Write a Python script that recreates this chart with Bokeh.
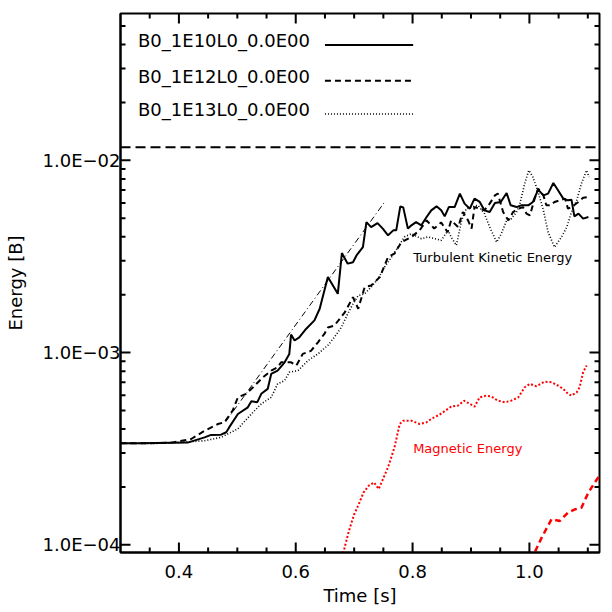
from bokeh.plotting import figure
from bokeh.models import (Range1d, FixedTicker, Span, Label,
                          CustomJSTickFormatter, PrintfTickFormatter, ColumnDataSource)
from bokeh.core.properties import value
from bokeh.embed import file_html
from bokeh.resources import INLINE

# ---------------- data ----------------
run_names = ["B0_1E10L0_0.0E00", "B0_1E12L0_0.0E00", "B0_1E13L0_0.0E00"]

t_solid = [0.300, 0.330, 0.360, 0.387, 0.415, 0.444, 0.455, 0.472, 0.481, 0.486, 0.501, 0.518,
           0.524, 0.534, 0.541, 0.552, 0.558, 0.569, 0.581, 0.589, 0.592, 0.598, 0.606, 0.618,
           0.632, 0.641, 0.655, 0.672, 0.679, 0.689, 0.698, 0.704, 0.715, 0.721, 0.729, 0.740,
           0.749, 0.758, 0.767, 0.772, 0.779, 0.784, 0.792, 0.798, 0.806, 0.815, 0.824, 0.832,
           0.841, 0.849, 0.855, 0.862, 0.872, 0.881, 0.889, 0.898, 0.906, 0.915, 0.923, 0.932,
           0.941, 0.951, 0.961, 0.968, 0.978, 0.986, 0.998, 1.006, 1.015, 1.024, 1.032, 1.041,
           1.049, 1.058, 1.066, 1.072, 1.077, 1.084, 1.092, 1.101]
e_solid = [3.37e-4, 3.37e-4, 3.38e-4, 3.39e-4, 3.40e-4, 3.62e-4, 3.73e-4, 3.74e-4, 3.85e-4, 4.08e-4,
           4.79e-4, 5.19e-4, 5.58e-4, 5.51e-4, 6.10e-4, 6.47e-4, 7.74e-4, 8.06e-4, 8.90e-4, 9.84e-4,
           1.24e-3, 1.155e-3, 1.20e-3, 1.33e-3, 1.47e-3, 1.69e-3, 2.47e-3, 2.02e-3, 3.29e-3, 2.90e-3,
           2.95e-3, 3.20e-3, 3.53e-3, 4.77e-3, 4.49e-3, 4.71e-3, 4.41e-3, 4.07e-3, 4.32e-3, 4.32e-3,
           5.76e-3, 5.69e-3, 4.41e-3, 4.59e-3, 4.77e-3, 4.59e-3, 5.07e-3, 5.49e-3, 5.76e-3, 5.49e-3,
           5.11e-3, 5.71e-3, 5.71e-3, 6.71e-3, 5.95e-3, 5.60e-3, 6.32e-3, 6.07e-3, 5.49e-3, 5.38e-3,
           5.99e-3, 6.07e-3, 6.76e-3, 5.83e-3, 5.71e-3, 5.83e-3, 5.83e-3, 6.07e-3, 7.04e-3, 6.57e-3,
           6.71e-3, 7.62e-3, 6.98e-3, 6.32e-3, 6.19e-3, 6.24e-3, 5.11e-3, 5.28e-3, 4.97e-3, 5.07e-3]

t_dash = [0.300, 0.330, 0.360, 0.387, 0.421, 0.444, 0.467, 0.478, 0.492, 0.501, 0.515, 0.527,
          0.544, 0.558, 0.569, 0.575, 0.592, 0.601, 0.612, 0.626, 0.638, 0.649, 0.655, 0.666,
          0.684, 0.698, 0.707, 0.718, 0.729, 0.744, 0.758, 0.769, 0.781, 0.798, 0.812, 0.824,
          0.837, 0.849, 0.860, 0.866, 0.878, 0.886, 0.895, 0.901, 0.906, 0.915, 0.923, 0.932,
          0.941, 0.946, 0.955, 0.964, 0.972, 0.981, 0.989, 0.995, 1.001, 1.009, 1.015, 1.024,
          1.029, 1.035, 1.043, 1.052, 1.061, 1.066, 1.072, 1.084, 1.092, 1.101]
e_dash = [3.37e-4, 3.37e-4, 3.38e-4, 3.40e-4, 3.55e-4, 3.92e-4, 4.25e-4, 4.34e-4, 4.99e-4, 5.85e-4,
          6.10e-4, 6.60e-4, 7.44e-4, 8.06e-4, 8.38e-4, 8.90e-4, 8.90e-4, 8.56e-4, 9.84e-4, 1.02e-3,
          1.13e-3, 1.25e-3, 1.35e-3, 1.38e-3, 1.62e-3, 1.94e-3, 1.69e-3, 2.19e-3, 2.23e-3, 2.47e-3,
          3.14e-3, 3.27e-3, 3.75e-3, 3.99e-3, 4.32e-3, 4.87e-3, 4.42e-3, 4.75e-3, 4.22e-3, 4.87e-3,
          4.49e-3, 5.38e-3, 4.87e-3, 4.41e-3, 5.71e-3, 5.60e-3, 5.49e-3, 5.95e-3, 6.57e-3, 6.71e-3,
          5.38e-3, 4.87e-3, 5.38e-3, 5.60e-3, 5.71e-3, 5.28e-3, 5.17e-3, 6.32e-3, 7.12e-3, 6.57e-3,
          5.83e-3, 5.83e-3, 6.07e-3, 6.19e-3, 6.32e-3, 5.60e-3, 5.71e-3, 6.07e-3, 6.39e-3, 6.44e-3]

t_dot = [0.300, 0.330, 0.360, 0.387, 0.444, 0.472, 0.501, 0.524, 0.541, 0.558, 0.569, 0.581,
         0.589, 0.604, 0.621, 0.638, 0.655, 0.666, 0.678, 0.689, 0.698, 0.707, 0.718, 0.729,
         0.741, 0.752, 0.764, 0.775, 0.786, 0.798, 0.815, 0.826, 0.838, 0.849, 0.861, 0.866,
         0.875, 0.884, 0.892, 0.901, 0.912, 0.923, 0.932, 0.944, 0.952, 0.961, 0.969, 0.978,
         0.983, 0.992, 0.999, 1.006, 1.015, 1.024, 1.032, 1.043, 1.055, 1.064, 1.072, 1.081,
         1.089, 1.098, 1.102]
e_dot = [3.37e-4, 3.37e-4, 3.37e-4, 3.38e-4, 3.48e-4, 3.62e-4, 4.01e-4, 4.79e-4, 5.41e-4, 5.85e-4,
         6.87e-4, 7.15e-4, 7.90e-4, 8.06e-4, 9.08e-4, 9.84e-4, 1.09e-3, 1.20e-3, 1.35e-3, 1.59e-3,
         1.79e-3, 1.98e-3, 2.02e-3, 2.19e-3, 2.42e-3, 2.78e-3, 3.14e-3, 3.53e-3, 3.99e-3, 4.15e-3,
         3.91e-3, 3.99e-3, 3.91e-3, 3.83e-3, 4.32e-3, 3.99e-3, 3.61e-3, 4.87e-3, 5.60e-3, 5.71e-3,
         5.83e-3, 5.28e-3, 4.49e-3, 3.75e-3, 4.15e-3, 4.87e-3, 4.97e-3, 5.38e-3, 5.83e-3, 7.56e-3,
         8.87e-3, 8.18e-3, 6.84e-3, 5.49e-3, 4.23e-3, 3.53e-3, 3.99e-3, 4.49e-3, 5.38e-3, 6.19e-3,
         7.56e-3, 8.87e-3, 8.18e-3]

t_mag_dot = [0.676, 0.683, 0.691, 0.700, 0.708, 0.716, 0.725, 0.734, 0.742, 0.748, 0.758, 0.769,
             0.778, 0.784, 0.798, 0.812, 0.824, 0.832, 0.846, 0.858, 0.866, 0.878, 0.888, 0.898,
             0.906, 0.915, 0.926, 0.935, 0.946, 0.958, 0.969, 0.981, 0.992, 1.001, 1.012, 1.026,
             1.038, 1.049, 1.058, 1.066, 1.072, 1.081, 1.086, 1.092, 1.098]
e_mag_dot = [8.25e-5, 9.50e-5, 1.18e-4, 1.44e-4, 1.63e-4, 1.87e-4, 2.03e-4, 2.11e-4, 1.95e-4, 2.15e-4,
             2.53e-4, 3.21e-4, 4.25e-4, 4.42e-4, 4.42e-4, 4.25e-4, 4.34e-4, 4.52e-4, 4.75e-4, 5.03e-4,
             5.23e-4, 5.30e-4, 5.62e-4, 5.41e-4, 5.23e-4, 5.85e-4, 5.97e-4, 5.90e-4, 5.62e-4, 5.51e-4,
             5.62e-4, 5.85e-4, 6.60e-4, 6.87e-4, 6.68e-4, 7.06e-4, 7.00e-4, 6.73e-4, 6.47e-4, 6.10e-4,
             5.97e-4, 6.21e-4, 6.60e-4, 7.90e-4, 8.56e-4]

t_mag_dash = [1.004, 1.009, 1.021, 1.038, 1.052, 1.066, 1.078, 1.089, 1.101, 1.112, 1.120]
e_mag_dash = [8.25e-5, 9.12e-5, 1.09e-4, 1.36e-4, 1.33e-4, 1.47e-4, 1.53e-4, 1.56e-4, 1.87e-4,
              2.11e-4, 2.29e-4]

t_fit = [0.480, 0.751]
e_fit = [4.37e-4, 6.0e-3]

separator_level = 0.0117

x_major = [0.4, 0.6, 0.8, 1.0]
x_minor = [0.35, 0.45, 0.5, 0.55, 0.65, 0.7, 0.75, 0.85, 0.9, 0.95, 1.05, 1.1]
y_major = [1e-4, 1e-3, 1e-2]
y_minor = [2e-4, 3e-4, 4e-4, 5e-4, 6e-4, 7e-4, 8e-4, 9e-4,
           2e-3, 3e-3, 4e-3, 5e-3, 6e-3, 7e-3, 8e-3, 9e-3,
           2e-2, 3e-2, 4e-2, 5e-2]

# ---------------- layout constants ----------------
FONT = "DejaVu Sans"
X_LO, X_HI = 0.3, 1.12
Y_LO, Y_HI = 9.12e-5, 0.058
LEG_TEXT_X = 0.330
LEG_LINE_X0 = 0.650
LEG_LINE_X1 = 0.801
LEG_Y = [0.0418, 0.0272, 0.0183]
LEG_LINE_Y = [0.0398, 0.0259, 0.0174]
LEG_DASH = ["solid", "6 4", "1 2"]
MAJOR_LEN, MINOR_LEN = 10, 5

p = figure(width=604, height=612,
           x_range=Range1d(X_LO, X_HI), y_range=Range1d(Y_LO, Y_HI),
           y_axis_type="log", output_backend="svg", toolbar_location=None)
p.min_border_left = 120
p.min_border_right = 5
p.min_border_top = 13
p.min_border_bottom = 60
p.grid.visible = False
p.outline_line_color = "black"
p.outline_line_width = 2
p.background_fill_color = "white"
p.border_fill_color = "white"

yfmt = CustomJSTickFormatter(code="""
const e = Math.round(Math.log10(tick));
const s = e < 0 ? "\\u2212" : "+";
return "1.0E" + s + String(Math.abs(e)).padStart(2, "0");
""")

axis_style = dict(axis_line_width=2, axis_line_color="black",
                  major_tick_in=0, major_tick_out=0, minor_tick_in=0, minor_tick_out=0,
                  major_label_text_font=FONT, major_label_text_font_size="18px",
                  major_label_text_color="black", axis_label_text_font=FONT,
                  axis_label_text_font_size="18px", axis_label_text_font_style="normal",
                  axis_label_text_color="black")

xa = p.xaxis[0]
xa.ticker = FixedTicker(ticks=x_major, minor_ticks=x_minor)
xa.formatter = PrintfTickFormatter(format="%.1f")
xa.axis_label = "Time [s]"
xa.update(**axis_style)
xa.major_label_standoff = 12
xa.axis_label_standoff = 4

ya = p.yaxis[0]
ya.ticker = FixedTicker(ticks=y_major, minor_ticks=y_minor)
ya.formatter = yfmt
ya.axis_label = "Energy [B]"
ya.update(**axis_style)
ya.major_label_standoff = 0
ya.axis_label_standoff = 14

# inward tick marks on all four sides, placed at the tick values via the plot's scales
tick_kw = dict(line_color="black", line_width=2, length_units="screen", angle_units="deg")
for ticks, ln in ((x_major, MAJOR_LEN), (x_minor, MINOR_LEN)):
    p.ray(x=ticks, y=[Y_LO] * len(ticks), length=ln, angle=90, **tick_kw)
    p.ray(x=ticks, y=[Y_HI] * len(ticks), length=ln, angle=-90, **tick_kw)
for ticks, ln in ((y_major, MAJOR_LEN), (y_minor, MINOR_LEN)):
    p.ray(x=[X_LO] * len(ticks), y=ticks, length=ln, angle=0, **tick_kw)
    p.ray(x=[X_HI] * len(ticks), y=ticks, length=ln, angle=180, **tick_kw)

# separator between legend area and data
p.add_layout(Span(location=separator_level, dimension="width", line_color="black",
                  line_width=2, line_dash="10 5"))

# curves
p.line(t_fit, e_fit, line_color="black", line_width=1, line_dash="6 3 1 3")
p.line(t_dot, e_dot, line_color="black", line_width=1.6, line_dash="1 2")
p.line(t_dash, e_dash, line_color="black", line_width=2, line_dash="6 4")
p.line(t_solid, e_solid, line_color="black", line_width=2)
p.line(t_mag_dot, e_mag_dot, line_color="#ff0000", line_width=2, line_dash="2 2")
p.line(t_mag_dash, e_mag_dash, line_color="#ff0000", line_width=2.5, line_dash="6 4")

# legend (label then line sample)
leg_src = ColumnDataSource(dict(x=[LEG_TEXT_X] * 3, y=LEG_Y, text=run_names))
p.text(x="x", y="y", text="text", source=leg_src, text_font=value(FONT),
       text_font_size="18px", text_baseline="middle", text_align="left", text_color="black")
for yy, dash in zip(LEG_LINE_Y, LEG_DASH):
    p.line([LEG_LINE_X0, LEG_LINE_X1], [yy, yy], line_color="black",
           line_width=2 if dash != "1 2" else 1.6, line_dash=dash)

p.add_layout(Label(x=0.801, y=3.135e-3, text="Turbulent Kinetic Energy", text_font=FONT,
                   text_font_size="13px", text_baseline="middle", text_color="black"))
p.add_layout(Label(x=0.801, y=3.16e-4, text="Magnetic Energy", text_font=FONT,
                   text_font_size="13px", text_baseline="middle", text_color="#ff0000"))

open("out.html", "w").write(file_html(p, INLINE))
